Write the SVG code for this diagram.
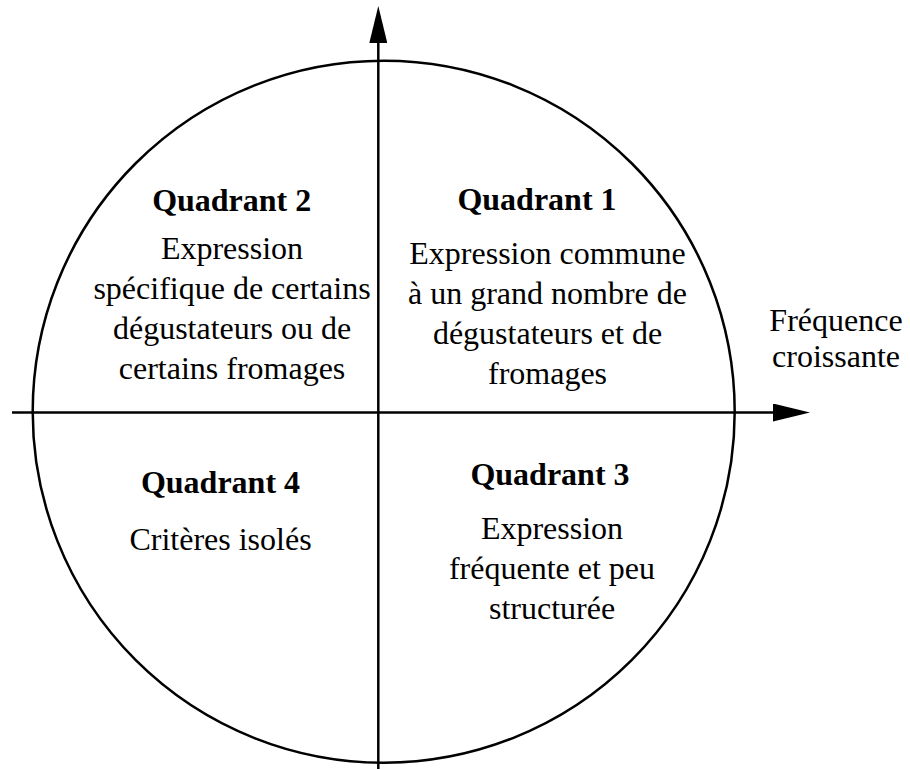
<svg xmlns="http://www.w3.org/2000/svg" width="910" height="769" viewBox="0 0 910 769">
<style>
  text { font-family: 'Liberation Serif', Tinos, 'Times New Roman', Times, 'DejaVu Serif', serif; font-size: 32px; fill: #000; text-anchor: middle; }
  .b { font-weight: bold; }
  .ln { stroke: #000; stroke-width: 2.5; fill: none; }
</style>
<defs>
  <marker id="arr" markerUnits="userSpaceOnUse" markerWidth="37" markerHeight="18" refX="0" refY="9" orient="auto" viewBox="0 0 37 18">
    <path d="M0,0 L37,9 L0,18 z" fill="#000"/>
  </marker>
</defs>
<rect width="910" height="769" fill="#fff"/>
<g id="circle">
  <circle class="ln" cx="383.7" cy="411.7" r="351"/>
</g>
<g id="connectors">
  <line class="ln" x1="378.3" y1="769" x2="378.3" y2="43" marker-end="url(#arr)"/>
  <line class="ln" x1="12" y1="412.5" x2="773" y2="412.5" marker-end="url(#arr)"/>
</g>
<g id="quadrant1">
  <text class="b" x="537" y="210">Quadrant 1</text>
  <text x="547.5" y="264">Expression commune</text>
  <text x="547.5" y="304">à un grand nombre de</text>
  <text x="547.5" y="344">dégustateurs et de</text>
  <text x="547.5" y="384">fromages</text>
</g>
<g id="quadrant2">
  <text class="b" x="231.7" y="211">Quadrant 2</text>
  <text x="232" y="259">Expression</text>
  <text x="232" y="299">spécifique de certains</text>
  <text x="232" y="339">dégustateurs ou de</text>
  <text x="232" y="379">certains fromages</text>
</g>
<g id="quadrant3">
  <text class="b" x="550" y="485">Quadrant 3</text>
  <text x="552" y="539">Expression</text>
  <text x="552" y="579">fréquente et peu</text>
  <text x="552" y="619">structurée</text>
</g>
<g id="quadrant4">
  <text class="b" x="220.5" y="493">Quadrant 4</text>
  <text x="220.5" y="550">Critères isolés</text>
</g>
<g id="axis-label">
  <text x="836" y="330.5">Fréquence</text>
  <text x="836" y="366.5">croissante</text>
</g>
</svg>
